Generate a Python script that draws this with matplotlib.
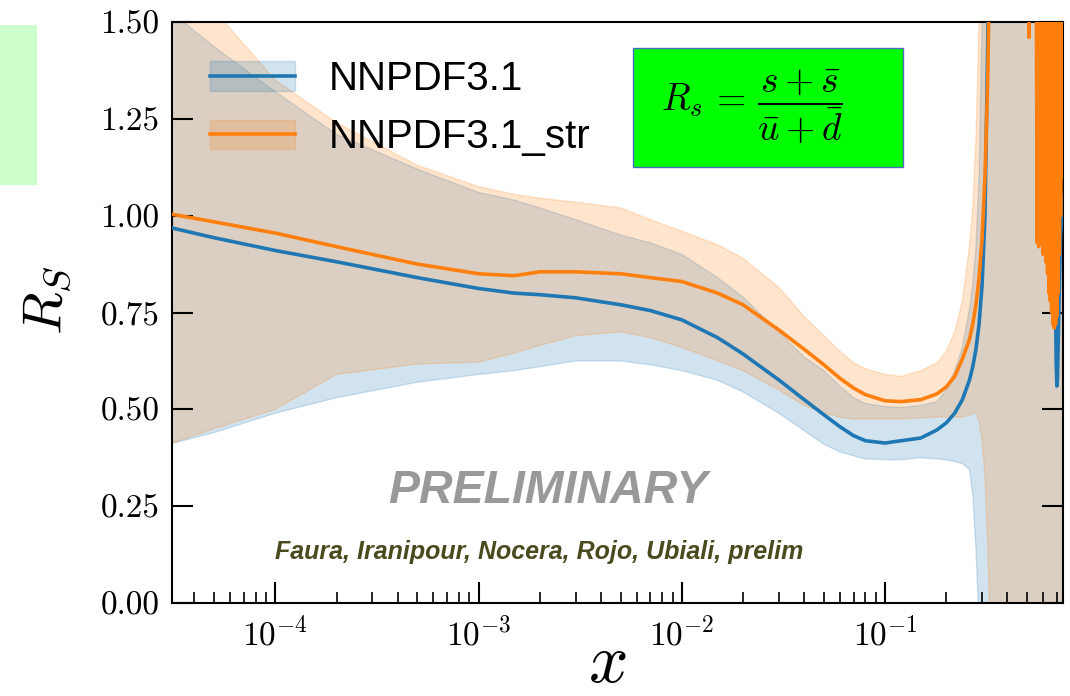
import numpy as np
import matplotlib
matplotlib.use("Agg")
import matplotlib.pyplot as plt
from matplotlib.patches import Rectangle
from matplotlib.ticker import FormatStrFormatter

plt.rcParams['font.family'] = 'serif'
plt.rcParams['font.serif'] = ['cmr10']
plt.rcParams['mathtext.fontset'] = 'cm'
plt.rcParams['axes.formatter.use_mathtext'] = True
plt.rcParams['axes.unicode_minus'] = False

# ============================================
# Data: R_s = (s + sbar) / (ubar + dbar) at Q0
# ============================================

x_grid = [3e-5, 5e-5, 1e-4, 2e-4, 5e-4, 1e-3, 1.5e-3, 2e-3, 3e-3, 5e-3, 7e-3,
          1e-2, 1.5e-2, 2e-2, 3e-2, 4e-2, 5e-2, 6e-2, 7e-2, 8e-2, 0.1, 0.12,
          0.15, 0.18, 0.2, 0.22, 0.24, 0.26, 0.27, 0.28, 0.29, 0.30, 0.31,
          0.32, 0.33, 0.34, 0.36, 0.4, 0.5, 0.6, 0.75]

# NNPDF3.1
blue_central = [0.97, 0.943, 0.91, 0.881, 0.84, 0.812, 0.80, 0.796, 0.788, 0.77,
                0.755, 0.731, 0.685, 0.643, 0.576, 0.525, 0.486, 0.455, 0.432,
                0.419, 0.413, 0.419, 0.426, 0.447, 0.465, 0.49, 0.525, 0.575,
                0.61, 0.655, 0.72, 0.82, 1.0, 1.45, 2.2, 3.0, 4.0, 4.0]
blue_upper = [1.53, 1.436, 1.32, 1.21, 1.12, 1.06, 1.04, 1.02, 0.99, 0.95, 0.93,
              0.90, 0.84, 0.79, 0.70, 0.635, 0.60, 0.56, 0.53, 0.515, 0.507,
              0.505, 0.51, 0.52, 0.55, 0.60, 0.66, 0.76, 0.82, 0.92, 1.1, 1.5,
              2.5, 4, 4, 4, 4, 4, 4, 4, 4]
blue_lower = [0.41, 0.44, 0.49, 0.53, 0.57, 0.59, 0.60, 0.61, 0.625, 0.625, 0.615,
              0.60, 0.575, 0.545, 0.49, 0.445, 0.41, 0.39, 0.38, 0.372, 0.37,
              0.37, 0.375, 0.372, 0.37, 0.365, 0.36, 0.345, 0.28, 0.14, -0.05,
              -0.5, -2, -2, -2, -2, -2, -2, -2, -2, -2]
blue_tail_x = [0.66, 0.675, 0.685, 0.695, 0.70, 0.705, 0.71, 0.72, 0.73, 0.74, 0.75]
blue_tail_y = [4.0, 1.6, 0.9, 0.62, 0.56, 0.58, 0.66, 0.82, 0.95, 1.0, 1.05]

# NNPDF3.1_str
orange_central = [1.005, 0.984, 0.955, 0.92, 0.875, 0.85, 0.845, 0.855, 0.855,
                  0.85, 0.84, 0.83, 0.80, 0.77, 0.705, 0.655, 0.615, 0.58, 0.555,
                  0.538, 0.522, 0.52, 0.525, 0.54, 0.558, 0.585, 0.63, 0.68, 0.72,
                  0.77, 0.84, 0.94, 1.1, 1.35, 1.8, 2.5, 4.0, 4.0]
orange_upper = [2.0, 1.53, 1.35, 1.24, 1.13, 1.075, 1.055, 1.045, 1.035, 1.02,
                0.99, 0.96, 0.925, 0.89, 0.815, 0.74, 0.69, 0.65, 0.62, 0.605,
                0.59, 0.585, 0.60, 0.62, 0.65, 0.70, 0.78, 0.92, 1.02, 1.2, 1.5,
                2.2, 4, 4, 4, 4, 4, 4, 4, 4, 4]
orange_lower = [0.41, 0.45, 0.50, 0.59, 0.617, 0.622, 0.645, 0.665, 0.69, 0.70,
                0.685, 0.66, 0.625, 0.60, 0.55, 0.51, 0.49, 0.48, 0.475, 0.475,
                0.475, 0.475, 0.478, 0.48, 0.48, 0.48, 0.48, 0.485, 0.49, 0.49,
                0.47, 0.42, 0.33, 0.15, -0.1, -1, -2, -2, -2, -2, -2]
orange_tail_x = [0.50, 0.51, 0.52, 0.555, 0.56, 0.565, 0.57, 0.575, 0.58, 0.585,
                 0.59, 0.595, 0.60, 0.605, 0.61, 0.615, 0.62, 0.625, 0.63, 0.635,
                 0.64, 0.645, 0.65, 0.655, 0.66, 0.665, 0.67, 0.675, 0.68, 0.685,
                 0.69, 0.695, 0.70, 0.705, 0.71, 0.715, 0.72, 0.725, 0.73, 0.735,
                 0.74, 0.745, 0.75]
orange_tail_y = [4.0, 1.46, 4.0, 1.6, 0.93, 1.6, 0.92, 1.6, 0.95, 1.6, 1.0, 1.6,
                 0.9, 1.6, 0.95, 1.6, 0.88, 1.6, 0.85, 1.6, 0.8, 1.6, 0.78, 1.6,
                 0.75, 1.6, 0.72, 1.6, 0.71, 1.6, 0.72, 1.6, 0.74, 1.6, 0.8, 1.6,
                 0.9, 1.6, 1.0, 1.6, 1.1, 1.6, 1.2]

labels = ['NNPDF3.1', 'NNPDF3.1_str']
yticks = [0.0, 0.25, 0.5, 0.75, 1.0, 1.25, 1.5]

C_BLUE = '#1f77b4'
C_ORANGE = '#ff7f0e'

# ============================================
# Figure
# ============================================

fig = plt.figure(figsize=(10.70, 6.96), dpi=100)
ax = fig.add_axes([0.1607, 0.1336, 0.8327, 0.8348])

xg = np.array(x_grid)
b_fill = ax.fill_between(xg, blue_lower, blue_upper, color=C_BLUE, alpha=0.2, zorder=1)
o_fill = ax.fill_between(xg, orange_lower, orange_upper, color=C_ORANGE, alpha=0.2, zorder=1)

b_x = np.r_[xg[:len(blue_central)], blue_tail_x]
b_y = np.r_[blue_central, blue_tail_y]
o_x = np.r_[xg[:len(orange_central)], orange_tail_x]
o_y = np.r_[orange_central, orange_tail_y]
b_line, = ax.plot(b_x, b_y, color=C_BLUE, lw=2.6, zorder=3)
o_line, = ax.plot(o_x, o_y, color=C_ORANGE, lw=2.6, zorder=4)

ax.set_xscale('log')
ax.set_xlim(3.1e-5, 0.75)
ax.set_ylim(0, 1.5)
ax.set_yticks(yticks)
ax.yaxis.set_major_formatter(FormatStrFormatter('%.2f'))

for s in ax.spines.values():
    s.set_linewidth(1.5)
ax.tick_params(which='major', direction='in', length=15, width=1.5,
               right=True, top=False, labelsize=24, pad=9)
ax.tick_params(which='minor', direction='in', length=8, width=1.2,
               right=True, top=False)

fig.text(47 / 1070, 1 - 300 / 696, r'$R_S$', rotation=90, ha='center',
         va='center', fontsize=40)
fig.text(607 / 1070, 1 - 664 / 696, r'$x$', ha='center', va='center',
         fontsize=50)

ax.legend([(b_fill, b_line), (o_fill, o_line)], labels, loc='upper left',
          frameon=False, prop={'family': 'Liberation Sans', 'size': 29},
          handlelength=2.1, handleheight=0.75, handletextpad=0.85,
          labelspacing=0.5, borderaxespad=0.55)

ax.text(0.422, 0.193, 'PRELIMINARY', transform=ax.transAxes, ha='center',
        va='center', family='Liberation Sans', weight='bold', style='italic',
        fontsize=33.5, color='#999999')
ax.text(0.412, 0.088, 'Faura, Iranipour, Nocera, Rojo, Ubiali, prelim',
        transform=ax.transAxes, ha='center', va='center',
        family='Liberation Sans', weight='bold', style='italic',
        fontsize=18, color='#4a4a1f')

# definition box
fig.patches.append(Rectangle((633 / 1070, 1 - 167 / 696), 270 / 1070, 119 / 696,
                             transform=fig.transFigure, facecolor='#00ff00',
                             edgecolor='#4a6fc0', lw=1.0, zorder=5))
fig.text(752 / 1070, 1 - 106 / 696,
         r'$R_s\,=\,\dfrac{s+\bar{s}}{\bar{u}+\bar{d}}$',
         ha='center', va='center', fontsize=27, zorder=6)

# side panel
fig.patches.append(Rectangle((0, 1 - 185 / 696), 37 / 1070, 160 / 696,
                             transform=fig.transFigure, facecolor='#ccffcc',
                             edgecolor='none', zorder=5))

fig.savefig('out.png', dpi=100)
